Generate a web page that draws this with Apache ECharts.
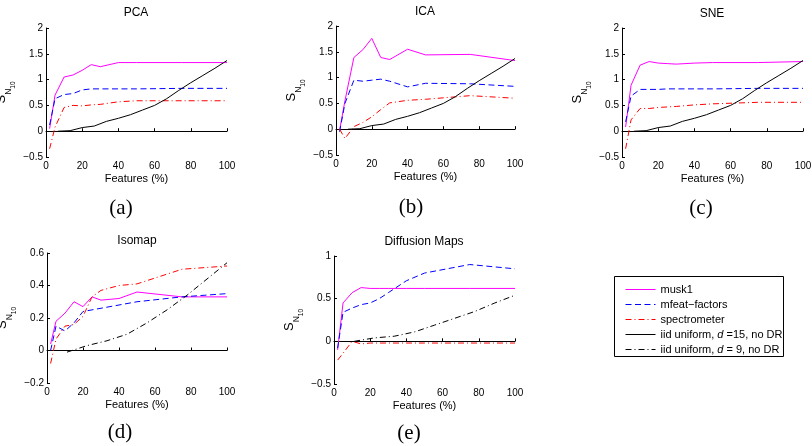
<!DOCTYPE html>
<html>
<head>
<meta charset="utf-8">
<script src="https://cdn.jsdelivr.net/npm/echarts@6/dist/echarts.min.js"></script>
<style>
  html, body { margin: 0; padding: 0; background: #fff; }
  #chart { width: 812px; height: 446px; }
</style>
</head>
<body>
<div id="chart"></div>
<script>
// x positions (% of features)
var xPct = [2, 5, 10, 15, 20, 25, 30, 40, 50, 75, 100];
var xIid15 = [6.67, 13.33, 20, 26.67, 33.33, 40, 46.67, 53.33, 60, 66.67, 73.33, 80, 86.67, 93.33, 100];
var xIid9 = [11.11, 22.22, 33.33, 44.44, 55.56, 66.67, 77.78, 88.89, 100];

// iid uniform baselines (no DR)
var iid15 = [0, 0.01, 0.07, 0.10, 0.19, 0.25, 0.32, 0.41, 0.50, 0.63, 0.79, 0.94, 1.08, 1.22, 1.37];
var iid9Iso = [-0.01, 0.03, 0.06, 0.10, 0.17, 0.25, 0.34, 0.44, 0.54];
var iid9Diff = [0.0, 0.04, 0.06, 0.11, 0.19, 0.27, 0.35, 0.45, 0.54];

// PCA
var pcaMusk = [0.05, 0.70, 1.05, 1.09, 1.18, 1.29, 1.25, 1.33, 1.33, 1.33, 1.33];
var pcaMfeat = [0.12, 0.63, 0.71, 0.73, 0.80, 0.82, 0.82, 0.82, 0.82, 0.83, 0.83];
var pcaSpec = [-0.34, 0.08, 0.46, 0.50, 0.49, 0.51, 0.52, 0.57, 0.59, 0.59, 0.59];
// ICA
var icaMusk = [-0.02, 0.55, 1.39, 1.54, 1.76, 1.39, 1.35, 1.55, 1.44, 1.45, 1.33];
var icaMfeat = [-0.05, 0.50, 0.95, 0.93, 0.95, 0.97, 0.93, 0.82, 0.89, 0.88, 0.83];
var icaSpec = [0.0, -0.18, 0.05, 0.13, 0.24, 0.38, 0.51, 0.56, 0.58, 0.65, 0.60];
// SNE
var sneMusk = [0.08, 0.89, 1.28, 1.35, 1.32, 1.31, 1.30, 1.32, 1.33, 1.33, 1.35];
var sneMfeat = [0.18, 0.68, 0.81, 0.81, 0.81, 0.82, 0.82, 0.82, 0.82, 0.83, 0.83];
var sneSpec = [-0.34, 0.22, 0.44, 0.44, 0.46, 0.47, 0.48, 0.51, 0.53, 0.56, 0.56];
// Isomap
var isoMusk = [0.04, 0.18, 0.23, 0.30, 0.27, 0.33, 0.31, 0.32, 0.36, 0.33, 0.33];
var isoMfeat = [0.0, 0.15, 0.12, 0.17, 0.24, 0.25, 0.26, 0.28, 0.30, 0.33, 0.35];
var isoSpec = [-0.08, 0.07, 0.15, 0.16, 0.21, 0.33, 0.37, 0.40, 0.41, 0.50, 0.52];
// Diffusion Maps
var difMusk = [-0.10, 0.45, 0.57, 0.63, 0.62, 0.62, 0.62, 0.62, 0.62, 0.62, 0.62];
var difMfeat = [-0.08, 0.34, 0.39, 0.43, 0.45, 0.50, 0.57, 0.71, 0.80, 0.90, 0.85];
var difSpec = [-0.22, -0.14, 0.0, -0.03, -0.02, -0.02, -0.02, -0.02, -0.02, -0.02, -0.02];

var names = ['musk1', 'mfeat\u2212factors', 'spectrometer', 'iid uniform, d =15, no DR', 'iid uniform, d = 9, no DR'];
var titles = ['PCA', 'ICA', 'SNE', 'Isomap', 'Diffusion Maps'];
var captions = ['(a)', '(b)', '(c)', '(d)', '(e)'];

function pairs(xs, ys) {
    return xs.map(function (x, i) { return [x, ys[i]]; });
}

var FONT = 'Liberation Sans, Arial, sans-serif';
var styles = [
    {color: '#ff00ff', type: 'solid'},
    {color: '#0000ff', type: [6, 3.5]},
    {color: '#ff0000', type: [6, 3, 1, 3]},
    {color: '#000000', type: 'solid'},
    {color: '#000000', type: [6, 3, 1, 3]}
];

var panels = [
    {grid: {left: 46, top: 28, width: 181, height: 129}, y: [-0.5, 2, 0.5], tx: 136, ty: 13, cx: 121, cy: 208,
        lines: [[0, pcaMusk], [1, pcaMfeat], [2, pcaSpec], [3, iid15]]},
    {grid: {left: 336, top: 26, width: 179, height: 129}, y: [-0.5, 2, 0.5], tx: 425, ty: 12, cx: 411, cy: 207,
        lines: [[0, icaMusk], [1, icaMfeat], [2, icaSpec], [3, iid15]]},
    {grid: {left: 622, top: 28, width: 181, height: 129}, y: [-0.5, 2, 0.5], tx: 712, ty: 14, cx: 701, cy: 208,
        lines: [[0, sneMusk], [1, sneMfeat], [2, sneSpec], [3, iid15]]},
    {grid: {left: 47, top: 253, width: 180, height: 130}, y: [-0.2, 0.6, 0.2], tx: 137, ty: 241, cx: 120, cy: 432,
        lines: [[0, isoMusk], [1, isoMfeat], [2, isoSpec], [4, iid9Iso]]},
    {grid: {left: 334, top: 256, width: 181, height: 128}, y: [-0.5, 1, 0.5], tx: 424, ty: 242, cx: 409, cy: 433,
        lines: [[0, difMusk], [1, difMfeat], [2, difSpec], [4, iid9Diff]]}
];

var grids = [], xAxes = [], yAxes = [], series = [], graphics = [];

function numLabel(v) {
    return String(Math.round(v * 10) / 10).replace('-', '\u2212');
}

panels.forEach(function (p, k) {
    var g = p.grid;
    g.outerBoundsMode = 'none';
    g.containLabel = false;
    grids.push(g);
    xAxes.push({
        type: 'value', gridIndex: k, min: 0, max: 100, interval: 20,
        name: 'Features (%)', nameLocation: 'middle', nameGap: 16,
        nameTextStyle: {fontFamily: FONT, fontSize: 11, color: '#000'},
        axisLine: {lineStyle: {color: '#000', width: 1}},
        axisTick: {inside: true, length: 3, lineStyle: {color: '#000'}},
        axisLabel: {fontFamily: FONT, fontSize: 10, color: '#000', margin: 4},
        splitLine: {show: false}
    });
    yAxes.push({
        type: 'value', gridIndex: k, min: p.y[0], max: p.y[1], interval: p.y[2],
        name: '{s|S}{n|N}{t|10}', nameLocation: 'middle', nameGap: 29, nameRotate: 90,
        nameTextStyle: {
            color: '#000', fontFamily: FONT,
            rich: {
                s: {fontSize: 13, fontFamily: FONT, color: '#000', verticalAlign: 'bottom', padding: [0, 0, 9, 0]},
                n: {fontSize: 8.5, fontFamily: FONT, color: '#000', verticalAlign: 'bottom', padding: [0, 0, 4, 0]},
                t: {fontSize: 6.5, fontFamily: FONT, color: '#000', verticalAlign: 'bottom'}
            }
        },
        axisLine: {show: true, lineStyle: {color: '#000', width: 1}},
        axisTick: {show: true, inside: true, length: 3, lineStyle: {color: '#000'}},
        axisLabel: {fontFamily: FONT, fontSize: 10, color: '#000', margin: 3, formatter: numLabel},
        splitLine: {show: false}
    });
    p.lines.forEach(function (l) {
        var s = l[0];
        var xs = s === 3 ? xIid15 : (s === 4 ? xIid9 : xPct);
        series.push({
            name: names[s], type: 'line', xAxisIndex: k, yAxisIndex: k,
            data: pairs(xs, l[1]), symbol: 'none', showSymbol: false,
            lineStyle: {color: styles[s].color, type: styles[s].type, width: 1},
            itemStyle: {color: styles[s].color},
            animation: false
        });
    });
    graphics.push({
        type: 'text', x: p.tx, y: p.ty,
        style: {text: titles[k], font: '12px ' + FONT, fill: '#000', textAlign: 'center', textVerticalAlign: 'middle'}
    });
    graphics.push({
        type: 'text', x: p.cx, y: p.cy,
        style: {text: captions[k], font: '21px Liberation Serif, Times New Roman, serif', fill: '#000', textAlign: 'center', textVerticalAlign: 'middle'}
    });
});

graphics.push({
    type: 'rect', z: 0,
    shape: {x: 614.5, y: 276.5, width: 169, height: 80},
    style: {fill: 'none', stroke: '#000', lineWidth: 1}
});

var option = {
    animation: false,
    grid: grids,
    xAxis: xAxes,
    yAxis: yAxes,
    series: series,
    legend: {
        data: names,
        orient: 'vertical',
        left: 620, top: 279,
        itemWidth: 30, itemHeight: 10, itemGap: 4,
        selectedMode: false,
        itemStyle: {opacity: 0},
        lineStyle: {width: 1},
        textStyle: {
            fontFamily: FONT, fontSize: 11, color: '#000',
            rich: {
                n: {fontFamily: FONT, fontSize: 11, color: '#000'},
                i: {fontFamily: FONT, fontSize: 11, color: '#000', fontStyle: 'italic'}
            }
        },
        formatter: function (name) {
            var m = name.indexOf(', d ');
            if (m < 0) return '{n|' + name + '}';
            return '{n|' + name.slice(0, m + 2) + '}{i|d}{n|' + name.slice(m + 3) + '}';
        }
    },
    graphic: graphics
};

var chart = echarts.init(document.getElementById('chart'));
chart.setOption(option);
</script>
</body>
</html>
